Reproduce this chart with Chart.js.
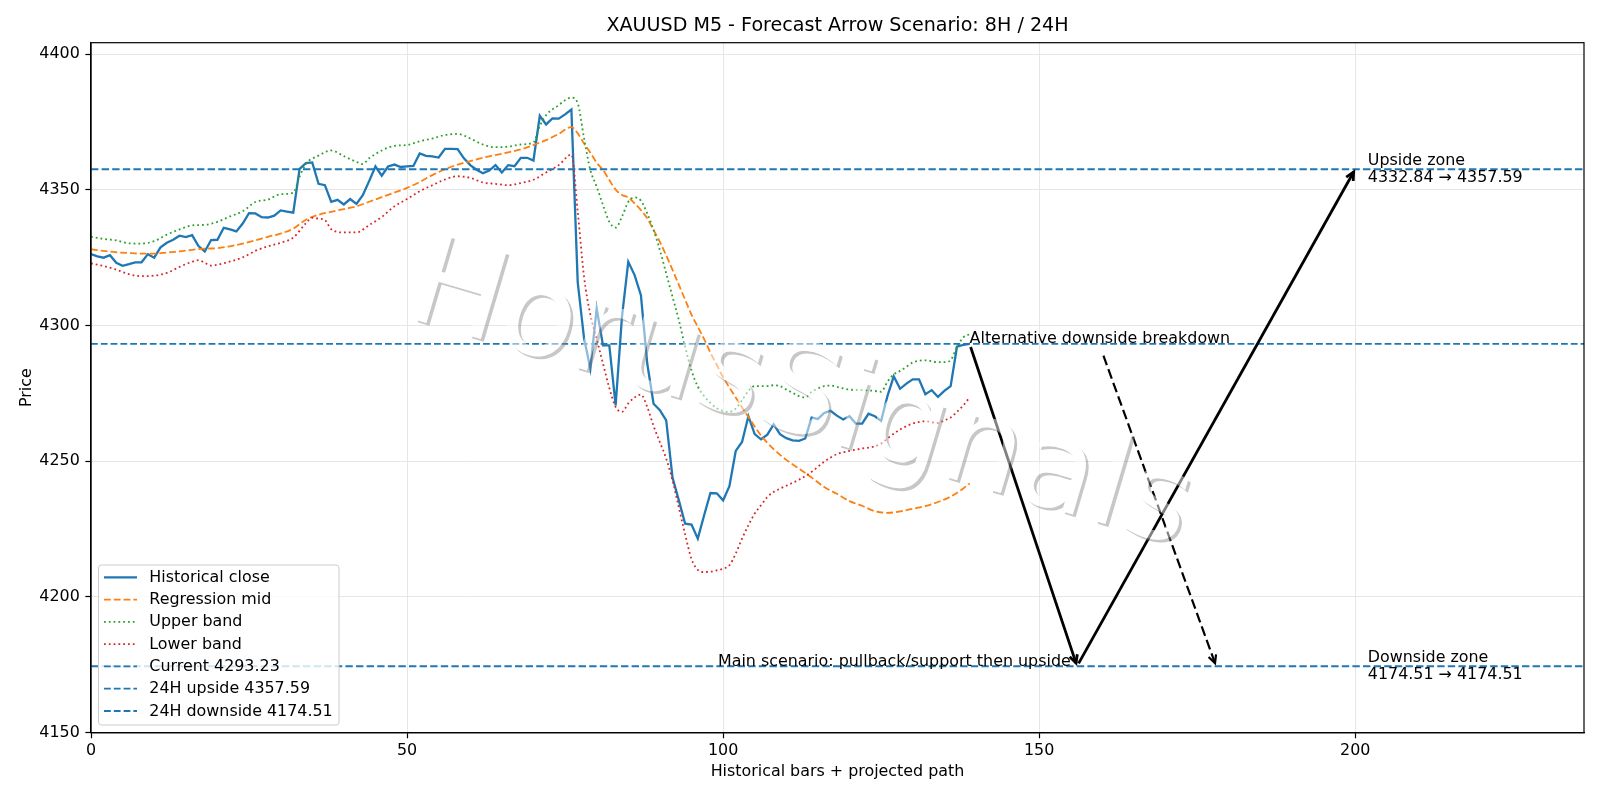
<!DOCTYPE html>
<html>
<head>
<meta charset="utf-8">
<title>XAUUSD M5 - Forecast Arrow Scenario</title>
<script src="https://cdn.jsdelivr.net/npm/chart.js@4.4.1/dist/chart.umd.min.js"></script>
<style>
    html, body { margin: 0; padding: 0; background: #ffffff; }
    #wrap { width: 1600px; height: 800px; }
</style>
</head>
<body>
<div id="wrap"><canvas id="forecastChart" width="1600" height="800"></canvas></div>
<script>
// Historical close, one value per bar (bar 0 .. 139)
const closeValues = [
    4326.3, 4325.5, 4325.0, 4325.9, 4323.1, 4322.0, 4322.6, 4323.3, 4323.3, 4326.3,
    4325.0, 4328.8, 4330.5, 4331.6, 4333.1, 4332.6, 4333.3, 4329.3, 4327.3, 4331.5,
    4331.6, 4336.0, 4335.4, 4334.7, 4337.6, 4341.4, 4341.3, 4339.9, 4339.8, 4340.5,
    4342.4, 4342.0, 4341.6, 4357.7, 4359.8, 4360.1, 4352.2, 4351.7, 4345.6, 4346.3,
    4344.6, 4346.6, 4344.8, 4348.0, 4353.2, 4358.6, 4355.2, 4358.6, 4359.3, 4358.4,
    4358.6, 4358.8, 4363.4, 4362.5, 4362.3, 4361.9, 4365.1, 4365.1, 4365.0, 4361.6,
    4359.1, 4357.4, 4356.1, 4357.1, 4359.1, 4356.4, 4359.1, 4358.7, 4361.8, 4361.8,
    4360.8, 4377.3, 4374.1, 4376.3, 4376.2, 4377.8, 4379.6, 4316.0, 4295.4, 4284.1,
    4306.3, 4292.7, 4292.7, 4270.6, 4303.2, 4323.5, 4318.6, 4311.2, 4286.0, 4271.2,
    4268.8, 4265.1, 4244.0, 4235.6, 4227.0, 4226.7, 4221.5, 4230.1, 4238.3, 4238.2,
    4235.6, 4240.8, 4253.8, 4257.1, 4266.6, 4260.0, 4258.1, 4259.8, 4263.6, 4260.0,
    4258.5, 4257.7, 4257.5, 4258.4, 4266.1, 4265.6, 4267.8, 4268.6, 4266.8, 4265.4,
    4266.6, 4263.9, 4263.9, 4267.5, 4266.6, 4264.9, 4274.0, 4281.3, 4276.7, 4278.6,
    4280.2, 4280.2, 4274.7, 4276.2, 4273.7, 4275.9, 4277.7, 4292.2, 4292.9, 4293.23
];

// Regression mid, read at these bars
const midBars = [0, 2, 4, 6, 8, 10, 12, 14, 16, 18, 20, 22, 24, 26, 28, 30, 32, 34, 36, 38,
    40, 42, 44, 46, 48, 50, 52, 54, 56, 58, 60, 62, 64, 66, 68, 70, 72, 74, 76,
    77, 78, 79, 80, 81, 82, 83, 84, 85, 86, 87, 88, 89, 90, 91, 92, 93, 94, 95, 96, 97, 98, 99, 100,
    102, 104, 106, 108, 110, 112, 114, 116, 118, 120, 122, 124, 126, 128, 130, 132, 134, 136, 138, 139];
const midValues = [4328.1, 4327.5, 4327.0, 4326.7, 4326.5, 4326.5, 4326.9, 4327.3, 4327.9, 4328.3,
    4328.5, 4329.2, 4330.2, 4331.4, 4332.7, 4333.9, 4335.7, 4339.0, 4340.8, 4341.9,
    4342.9, 4343.9, 4345.6, 4347.3, 4349.0, 4350.7, 4352.9, 4355.4, 4357.6, 4359.3,
    4360.6, 4361.8, 4362.8, 4363.8, 4364.9, 4366.5, 4368.3, 4370.6, 4373.1,
    4370.8, 4367.1, 4363.7, 4360.0, 4357.3, 4353.6, 4350.1, 4348.1, 4347.2, 4345.0,
    4342.5, 4339.5, 4335.2, 4330.8, 4325.8, 4320.5, 4315.0, 4309.5, 4304.0, 4299.5,
    4295.0, 4290.0, 4285.5, 4281.0,
    4273.5, 4266.3, 4259.5, 4254.5, 4250.5, 4247.3, 4244.0, 4240.5, 4238.0, 4235.3,
    4233.6, 4231.6, 4231.0, 4231.5, 4232.5, 4233.5, 4235.0, 4237.0, 4240.0, 4241.8];

// Upper band
const upperBars = [0, 2, 4, 6, 8, 10, 12, 14, 16, 18, 20, 22, 24, 26, 28, 30, 32, 33, 34,
    36, 38, 40, 42, 43, 44, 46, 48, 50, 52, 54, 56, 58, 60, 62, 64, 66, 68, 70, 71, 72, 74, 75,
    76, 77, 78, 79, 80, 81, 82, 83, 84, 85, 86, 87, 88, 89, 90, 91, 92, 93, 94, 95, 96, 97, 98, 99,
    100, 101, 102, 103, 104, 105, 107, 108, 109, 110, 111, 112, 113, 114, 115, 116, 117, 118,
    120, 122, 124, 125, 126, 127, 128, 129, 130, 131, 132, 134, 135, 136, 137, 138, 139];
const upperValues = [4332.7, 4331.9, 4331.4, 4330.3, 4330.2, 4331.1, 4333.5, 4335.4, 4336.9, 4337.1,
    4338.2, 4340.2, 4342.1, 4345.5, 4346.4, 4348.4, 4348.9, 4354.8, 4359.5,
    4362.6, 4364.5, 4362.4, 4360.3, 4359.5, 4361.6, 4364.5, 4366.2, 4366.5, 4367.9, 4368.9,
    4370.2, 4370.6, 4368.9, 4366.7, 4365.7, 4365.9, 4366.7, 4367.5, 4373.5, 4377.5, 4381.2, 4383.0,
    4384.0, 4381.9, 4369.0, 4357.3, 4351.2, 4344.4, 4338.2, 4336.1, 4340.1, 4345.6, 4347.2, 4346.0,
    4341.3, 4335.2, 4327.8, 4319.2, 4310.6, 4302.0, 4292.1, 4283.5, 4277.5, 4274.0, 4271.5, 4269.5,
    4268.5, 4268.2, 4269.4, 4272.5, 4275.9, 4277.7, 4277.7, 4278.0, 4277.7, 4276.4, 4275.2, 4274.0,
    4273.5, 4275.6, 4276.8, 4277.7, 4277.9, 4277.4,
    4276.4, 4276.2, 4275.9, 4275.6, 4279.3, 4282.0, 4283.3, 4284.8, 4286.4, 4287.0, 4287.2,
    4286.5, 4286.5, 4287.2, 4292.2, 4295.6, 4296.8];

// Lower band
const lowerBars = [0, 2, 4, 6, 8, 10, 12, 14, 16, 17, 18, 19, 20, 22, 24, 26, 28, 30, 32,
    34, 35, 36, 37, 38, 40, 42, 44, 46, 48, 50, 52, 54, 56, 58, 60, 62, 64, 66, 68, 70, 72, 74, 76,
    77, 78, 79, 80, 81, 82, 83, 84, 85, 86, 87, 88, 89, 90, 91, 92, 93, 94, 95, 96, 97, 98, 99,
    100, 101, 102, 103, 104, 105, 106, 107, 108, 109, 110,
    112, 114, 116, 118, 120, 122, 124, 125, 126, 128, 130, 132, 134, 135, 136, 137, 138, 139];
const lowerValues = [4322.9, 4321.9, 4320.6, 4318.9, 4318.2, 4318.4, 4319.4, 4321.6, 4323.5, 4324.1,
    4323.1, 4322.1, 4322.4, 4323.6, 4325.1, 4327.5, 4329.2, 4330.5, 4332.4,
    4337.7, 4339.7, 4339.4, 4338.9, 4335.5, 4334.3, 4334.3, 4337.0, 4340.0, 4343.9, 4346.6,
    4349.5, 4351.7, 4353.8, 4355.0, 4354.4, 4352.7, 4352.2, 4351.7, 4352.5, 4353.7, 4356.4,
    4359.1, 4363.0,
    4342.0, 4318.0, 4304.0, 4295.0, 4286.0, 4277.0, 4270.0, 4268.2, 4271.3, 4273.5, 4274.6,
    4270.0, 4263.0, 4257.0, 4251.0, 4243.0, 4233.0, 4223.0, 4214.0, 4210.0, 4209.2, 4209.3,
    4209.8, 4210.4, 4211.7, 4216.0, 4221.5, 4226.4, 4230.7, 4233.8, 4236.8, 4238.7, 4239.9,
    4241.0,
    4243.2, 4246.1, 4249.8, 4252.6, 4253.8, 4254.7, 4255.5, 4256.5, 4258.4, 4261.7, 4263.9,
    4264.7, 4264.1, 4265.1, 4266.1, 4268.2, 4270.6, 4273.5];

// Horizontal levels
const levelLabels = ['Current 4293.23', '24H upside 4357.59', '24H downside 4174.51'];
const levelValues = [4293.23, 4357.59, 4174.51];

// Projected paths (bar, price)
const mainPathBars = [139, 156, 200];
const mainPathPrices = [4293.23, 4174.51, 4357.59];
const altPathBars = [160, 178];
const altPathPrices = [4290.0, 4174.51];

// Text notes
const noteTexts = ['Alternative downside breakdown', 'Main scenario: pullback/support then upside'];
const noteBars = [139, 155];
const notePrices = [4293.23, 4174.51];
const zoneTitles = ['Upside zone', 'Downside zone'];
const zoneRanges = ['4332.84 \u2192 4357.59', '4174.51 \u2192 4174.51'];
const zoneBar = 202;
const zonePrices = [4357.59, 4174.51];

// Axes
const xTicks = [0, 50, 100, 150, 200];
const yTicks = [4150, 4200, 4250, 4300, 4350, 4400];
const xAxisMax = 236.2;
const yAxisMin = 4150;
const yAxisMax = 4404.2;

const FONT = 'DejaVu Sans';
const FS = 15.9;
const BLUE = '#1f77b4';

const pairs = (xs, ys) => xs.map((x, i) => ({ x: x, y: ys[i] }));

// Watermark: white glyphs with a soft grey drop shadow, drawn on top
const watermarkPlugin = {
    id: 'watermark',
    afterDraw(chart) {
        const ctx = chart.ctx;
        const off = document.createElement('canvas');
        off.width = chart.width;
        off.height = chart.height;
        const o = off.getContext('2d');
        o.font = '124px "' + FONT + '"';
        o.textAlign = 'center';
        o.textBaseline = 'middle';
        const stamp = (dx, dy) => {
            o.save();
            o.translate(800 + dx, 400 + dy);
            o.rotate(16.5 * Math.PI / 180);
            o.fillText('HorusSignals', 0, 0);
            o.restore();
        };
        o.fillStyle = 'rgba(130,130,130,0.45)';
        stamp(2.8, 2.8);
        o.globalCompositeOperation = 'destination-out';
        o.fillStyle = '#000';
        stamp(0, 0);
        o.globalCompositeOperation = 'source-over';
        o.fillStyle = 'rgba(255,255,255,0.5)';
        stamp(0, 0);
        ctx.drawImage(off, 0, 0);
    }
};

// Frame, title, arrows, notes and legend
function drawArrow(ctx, x1, y1, x2, y2, width, dash) {
    const ang = Math.atan2(y2 - y1, x2 - x1);
    const c = Math.cos(ang), s = Math.sin(ang);
    const shrink = 3.2;
    const sx = x1 + c * shrink, sy = y1 + s * shrink;
    const ex = x2 - c * shrink, ey = y2 - s * shrink;
    ctx.save();
    ctx.strokeStyle = '#000';
    ctx.lineWidth = width;
    ctx.setLineDash(dash);
    ctx.beginPath();
    ctx.moveTo(sx, sy);
    ctx.lineTo(ex, ey);
    ctx.stroke();
    ctx.setLineDash([]);
    const hl = 8, hw = 4;
    ctx.beginPath();
    ctx.moveTo(ex - c * hl - s * hw, ey - s * hl + c * hw);
    ctx.lineTo(ex, ey);
    ctx.lineTo(ex - c * hl + s * hw, ey - s * hl - c * hw);
    ctx.stroke();
    ctx.restore();
}

const overlayPlugin = {
    id: 'overlay',
    afterDatasetsDraw(chart) {
        const ctx = chart.ctx;
        const xs = chart.scales.x, ys = chart.scales.y;
        const px = v => xs.getPixelForValue(v);
        const py = v => ys.getPixelForValue(v);

        // main path
        for (let i = 0; i < mainPathBars.length - 1; i++) {
            drawArrow(ctx, px(mainPathBars[i]), py(mainPathPrices[i]),
                px(mainPathBars[i + 1]), py(mainPathPrices[i + 1]), 2.8, []);
        }
        // alternative path
        drawArrow(ctx, px(altPathBars[0]), py(altPathPrices[0]),
            px(altPathBars[1]), py(altPathPrices[1]), 2.2, [10, 4.4]);

        ctx.save();
        ctx.fillStyle = '#000';
        ctx.font = FS + 'px "' + FONT + '"';
        ctx.textBaseline = 'alphabetic';
        ctx.textAlign = 'left';
        ctx.fillText(noteTexts[0], px(noteBars[0]), py(notePrices[0]) - 1);
        ctx.textAlign = 'right';
        ctx.fillText(noteTexts[1], px(noteBars[1]), py(notePrices[1]));
        ctx.textAlign = 'left';
        ctx.textBaseline = 'middle';
        zonePrices.forEach((p, i) => {
            ctx.fillText(zoneTitles[i], px(zoneBar), py(p) - 8.3);
            ctx.fillText(zoneRanges[i], px(zoneBar), py(p) + 8.3);
        });
        ctx.restore();
    },
    afterDraw(chart) {
        const ctx = chart.ctx;
        const a = chart.chartArea;

        // full frame
        ctx.save();
        ctx.strokeStyle = '#000';
        ctx.lineWidth = 1.2;
        ctx.strokeRect(a.left, a.top, a.right - a.left, a.bottom - a.top);

        // title centred over the axes
        ctx.fillStyle = '#000';
        ctx.font = '19.1px "' + FONT + '"';
        ctx.textAlign = 'center';
        ctx.textBaseline = 'middle';
        ctx.fillText('XAUUSD M5 - Forecast Arrow Scenario: 8H / 24H', (a.left + a.right) / 2, 26.2);

        // legend box, lower left
        const bx = 98.5, by = 565, bw = 240.5, bh = 160;
        ctx.beginPath();
        ctx.roundRect(bx, by, bw, bh, 3);
        ctx.fillStyle = 'rgba(255,255,255,0.8)';
        ctx.fill();
        ctx.strokeStyle = '#cccccc';
        ctx.lineWidth = 1;
        ctx.stroke();

        ctx.font = FS + 'px "' + FONT + '"';
        ctx.textAlign = 'left';
        chart.data.datasets.forEach((ds, i) => {
            const y = 577.3 + i * 22.28;
            ctx.strokeStyle = ds.borderColor;
            ctx.lineWidth = ds.legendWidth || ds.borderWidth;
            ctx.setLineDash(ds.legendDash || ds.borderDash || []);
            ctx.beginPath();
            ctx.moveTo(104, y);
            ctx.lineTo(137, y);
            ctx.stroke();
            ctx.setLineDash([]);
            ctx.fillStyle = '#000';
            ctx.fillText(ds.label, 149.3, y + 0.5);
        });
        ctx.restore();
    }
};

function levelLine(i, width, dash, order) {
    return {
        label: levelLabels[i],
        data: [{ x: 0, y: levelValues[i] }, { x: xAxisMax, y: levelValues[i] }],
        borderColor: BLUE,
        borderWidth: width,
        borderDash: dash,
        legendWidth: 1.8,
        legendDash: [6.8, 3],
        pointRadius: 0,
        order: order
    };
}

const ctx = document.getElementById('forecastChart');

new Chart(ctx, {
    type: 'line',
    data: {
        datasets: [
            {
                label: 'Historical close',
                data: closeValues.map((v, i) => ({ x: i, y: v })),
                borderColor: BLUE,
                borderWidth: 2.3,
                pointRadius: 0,
                tension: 0,
                order: 6
            },
            {
                label: 'Regression mid',
                data: pairs(midBars, midValues),
                borderColor: '#ff7f0e',
                borderWidth: 1.8,
                borderDash: [6.8, 3],
                pointRadius: 0,
                cubicInterpolationMode: 'monotone',
                order: 5
            },
            {
                label: 'Upper band',
                data: pairs(upperBars, upperValues),
                borderColor: '#2ca02c',
                borderWidth: 1.8,
                borderDash: [1.8, 3],
                pointRadius: 0,
                cubicInterpolationMode: 'monotone',
                order: 4
            },
            {
                label: 'Lower band',
                data: pairs(lowerBars, lowerValues),
                borderColor: '#d62728',
                borderWidth: 1.8,
                borderDash: [1.8, 3],
                pointRadius: 0,
                cubicInterpolationMode: 'monotone',
                order: 3
            },
            levelLine(0, 1.7, [6.8, 3], 2),
            levelLine(1, 2.0, [7.4, 3.2], 1),
            levelLine(2, 2.0, [7.4, 3.2], 0)
        ]
    },
    options: {
        responsive: false,
        animation: false,
        devicePixelRatio: 1,
        layout: {
            padding: { top: 42.7, right: 16, bottom: 0, left: 0 }
        },
        plugins: {
            legend: { display: false },
            title: { display: false },
            tooltip: { enabled: false }
        },
        scales: {
            x: {
                type: 'linear',
                min: 0,
                max: xAxisMax,
                afterBuildTicks: function(scale) {
                    scale.ticks = xTicks.map(v => ({ value: v }));
                },
                afterFit: function(scale) {
                    scale.height = 67.3;
                },
                grid: {
                    color: '#e6e6e6',
                    lineWidth: 1,
                    tickColor: '#000',
                    tickLength: 5.6,
                    tickWidth: 1.2
                },
                border: { display: true, color: '#000', width: 1.2 },
                ticks: {
                    color: '#000',
                    font: { family: FONT, size: FS },
                    padding: 3,
                    maxRotation: 0,
                    autoSkip: false,
                    callback: function(value) {
                        return String(value);
                    }
                },
                title: {
                    display: true,
                    text: 'Historical bars + projected path',
                    color: '#000',
                    font: { family: FONT, size: FS },
                    padding: { top: 0, bottom: 19 }
                }
            },
            y: {
                type: 'linear',
                min: yAxisMin,
                max: yAxisMax,
                afterBuildTicks: function(scale) {
                    scale.ticks = yTicks.map(v => ({ value: v }));
                },
                afterFit: function(scale) {
                    scale.width = 91;
                },
                grid: {
                    color: '#e6e6e6',
                    lineWidth: 1,
                    tickColor: '#000',
                    tickLength: 5.6,
                    tickWidth: 1.2
                },
                border: { display: true, color: '#000', width: 1.2 },
                ticks: {
                    color: '#000',
                    font: { family: FONT, size: FS },
                    padding: 5.6,
                    autoSkip: false,
                    callback: function(value) {
                        return String(value);
                    }
                },
                title: {
                    display: true,
                    text: 'Price',
                    color: '#000',
                    font: { family: FONT, size: FS },
                    padding: { top: 17, bottom: 0 }
                }
            }
        }
    },
    plugins: [overlayPlugin, watermarkPlugin]
});
</script>
</body>
</html>
